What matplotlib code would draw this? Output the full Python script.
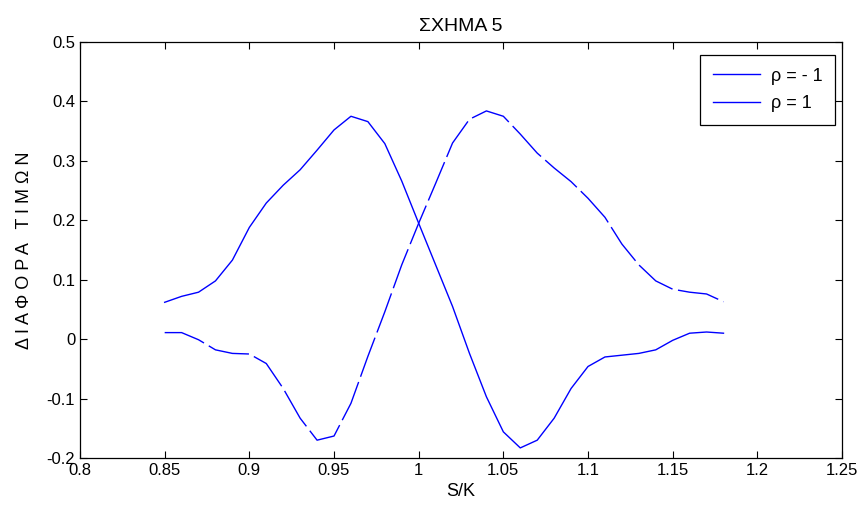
import matplotlib
matplotlib.use("Agg")
import matplotlib.pyplot as plt
import numpy as np

plt.rcParams['font.family'] = ['Liberation Sans Narrow', 'Liberation Sans', 'DejaVu Sans']

s_over_k = [0.85, 0.86, 0.87, 0.88, 0.89, 0.90, 0.91, 0.92, 0.93, 0.94, 0.95, 0.96,
            0.97, 0.98, 0.99, 1.00, 1.01, 1.02, 1.03, 1.04, 1.05, 1.06, 1.07, 1.08,
            1.09, 1.10, 1.11, 1.12, 1.13, 1.14, 1.15, 1.16, 1.17, 1.18]

rho_minus1 = [0.011, 0.011, -0.001, -0.018, -0.024, -0.025, -0.041, -0.083, -0.133, -0.170,
              -0.163, -0.108, -0.029, 0.046, 0.125, 0.195, 0.262, 0.330, 0.370, 0.384,
              0.375, 0.345, 0.313, 0.288, 0.265, 0.237, 0.205, 0.160, 0.125, 0.098,
              0.084, 0.079, 0.076, 0.063]

rho_plus1 = [0.062, 0.072, 0.079, 0.098, 0.133, 0.188, 0.229, 0.259, 0.285, 0.318,
             0.352, 0.375, 0.366, 0.329, 0.266, 0.195, 0.125, 0.055, -0.024, -0.097,
             -0.156, -0.183, -0.170, -0.133, -0.083, -0.046, -0.030, -0.027, -0.024, -0.018,
             -0.002, 0.010, 0.012, 0.010]

legend_labels = ['ρ = - 1', 'ρ = 1']
x_ticks = [0.8, 0.85, 0.9, 0.95, 1.0, 1.05, 1.1, 1.15, 1.2, 1.25]
x_tick_labels = ['0.8', '0.85', '0.9', '0.95', '1', '1.05', '1.1', '1.15', '1.2', '1.25']
y_ticks = [-0.2, -0.1, 0, 0.1, 0.2, 0.3, 0.4, 0.5]
y_tick_labels = ['-0.2', '-0.1', '0', '0.1', '0.2', '0.3', '0.4', '0.5']

fig = plt.figure(figsize=(8.63, 5.17), dpi=100)
ax = fig.add_axes([0.0927, 0.1141, 0.883, 0.8047])

blue = '#0000ff'
ax.plot(s_over_k, rho_minus1, color=blue, lw=1.0, dashes=(30, 4), label=legend_labels[0])
ax.plot(s_over_k, rho_plus1, color=blue, lw=1.0, label=legend_labels[1])

ax.set_xlim(0.8, 1.25)
ax.set_ylim(-0.2, 0.5)
ax.set_xticks(x_ticks)
ax.set_xticklabels(x_tick_labels)
ax.set_yticks(y_ticks)
ax.set_yticklabels(y_tick_labels)
ax.tick_params(direction='in', top=True, right=True, labelsize=12, length=5, width=0.8)
for sp in ax.spines.values():
    sp.set_linewidth(0.9)

ax.set_title('ΣΧΗΜΑ 5', fontsize=14, pad=8)
ax.set_xlabel('S/K', fontsize=13, labelpad=4)
ax.set_ylabel('Δ Ι Α Φ Ο Ρ Α   Τ Ι Μ Ω Ν', fontsize=13, labelpad=10)

from matplotlib.lines import Line2D
handles = [Line2D([0], [0], color=blue, lw=1.0), Line2D([0], [0], color=blue, lw=1.0)]
leg = ax.legend(handles, legend_labels, loc='upper right', bbox_to_anchor=(0.991, 0.969),
                fontsize=13, fancybox=False, edgecolor='black', framealpha=1,
                handlelength=2.6, handletextpad=0.6, borderpad=0.7, labelspacing=0.6,
                borderaxespad=0)
leg.get_frame().set_linewidth(0.9)

fig.savefig('out.png', dpi=100, facecolor='white')
